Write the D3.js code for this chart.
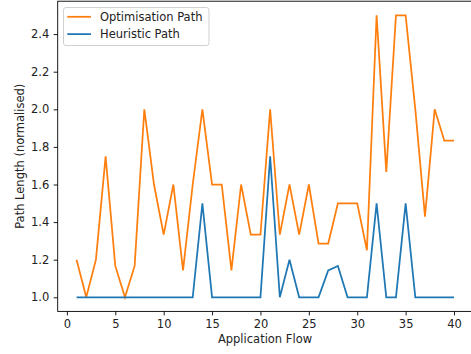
<!DOCTYPE html>
<html>
<head>
<meta charset="utf-8">
<script src="https://cdnjs.cloudflare.com/ajax/libs/d3/7.8.5/d3.min.js"></script>
<style>
  body { margin: 0; background: #fff; }
  text { font-family: "DejaVu Sans", sans-serif; fill: #222; }
</style>
</head>
<body>
<svg width="471" height="354"></svg>
<script>
// application flow index 1..40
var flows = d3.range(1, 41);

var optimisation = [1.2, 1.0, 1.2, 1.75, 1.167, 1.0, 1.167, 2.0, 1.6, 1.333,
                    1.6, 1.143, 1.6, 2.0, 1.6, 1.6, 1.143, 1.6, 1.333, 1.333,
                    2.0, 1.333, 1.6, 1.333, 1.6, 1.286, 1.286, 1.5, 1.5, 1.5,
                    1.25, 2.5, 1.667, 2.5, 2.5, 2.0, 1.429, 2.0, 1.833, 1.833];

var heuristic = [1.0, 1.0, 1.0, 1.0, 1.0, 1.0, 1.0, 1.0, 1.0, 1.0,
                 1.0, 1.0, 1.0, 1.5, 1.0, 1.0, 1.0, 1.0, 1.0, 1.0,
                 1.75, 1.0, 1.2, 1.0, 1.0, 1.0, 1.143, 1.167, 1.0, 1.0,
                 1.0, 1.5, 1.0, 1.0, 1.5, 1.0, 1.0, 1.0, 1.0, 1.0];

var xTicks = [0, 5, 10, 15, 20, 25, 30, 35, 40];
var yTicks = [1.0, 1.2, 1.4, 1.6, 1.8, 2.0, 2.2, 2.4];

var svg = d3.select("svg");
var fs = "11.5px";

var plotL = 57.7, plotR = 472.9, plotT = 1.2, plotB = 311.4;

var x = d3.scaleLinear().domain([-0.95, 41.95]).range([plotL, plotR]);
var y = d3.scaleLinear().domain([0.925, 2.575]).range([plotB, plotT]);

var xAxis = svg.append("g")
    .attr("transform", "translate(0," + plotB + ")")
    .call(d3.axisBottom(x).tickValues(xTicks).tickSize(4).tickPadding(4).tickFormat(d3.format("d")));

var yAxis = svg.append("g")
    .attr("transform", "translate(" + plotL + ",0)")
    .call(d3.axisLeft(y).tickValues(yTicks).tickSize(4).tickPadding(4.5).tickFormat(d3.format(".1f")));

[xAxis, yAxis].forEach(function(a) {
  a.select(".domain").remove();
  a.selectAll("line").attr("stroke", "#000").attr("stroke-width", 0.9);
  a.selectAll("text").attr("font-size", fs).attr("font-family", "DejaVu Sans").attr("fill", "#222");
});

// spines
svg.append("rect")
    .attr("x", plotL).attr("y", plotT)
    .attr("width", plotR - plotL).attr("height", plotB - plotT)
    .attr("fill", "none").attr("stroke", "#000").attr("stroke-width", 0.9);

var line = d3.line()
    .x(function(d, i) { return x(flows[i]); })
    .y(function(d) { return y(d); });

svg.append("path")
    .datum(optimisation)
    .attr("d", line)
    .attr("fill", "none")
    .attr("stroke", "#ff7f0e")
    .attr("stroke-width", 1.75);

svg.append("path")
    .datum(heuristic)
    .attr("d", line)
    .attr("fill", "none")
    .attr("stroke", "#1f77b4")
    .attr("stroke-width", 1.75);

// axis labels
svg.append("text")
    .attr("x", 265)
    .attr("y", 343)
    .attr("text-anchor", "middle")
    .attr("font-size", fs)
    .text("Application Flow");

svg.append("text")
    .attr("transform", "translate(23.5," + ((plotT + plotB) / 2) + ") rotate(-90)")
    .attr("text-anchor", "middle")
    .attr("font-size", fs)
    .text("Path Length (normalised)");

// legend
var legend = svg.append("g");
legend.append("rect")
    .attr("x", 63.5).attr("y", 7.5)
    .attr("width", 145.5).attr("height", 38)
    .attr("rx", 2.5)
    .attr("fill", "#fff").attr("fill-opacity", 0.8)
    .attr("stroke", "#ccc").attr("stroke-width", 0.9);

var items = [["Optimisation Path", "#ff7f0e"], ["Heuristic Path", "#1f77b4"]];
items.forEach(function(it, i) {
  var ly = 16.8 + i * 17.3;
  legend.append("line")
      .attr("x1", 67.3).attr("x2", 91)
      .attr("y1", ly).attr("y2", ly)
      .attr("stroke", it[1]).attr("stroke-width", 1.75);
  legend.append("text")
      .attr("x", 100).attr("y", ly + 4)
      .attr("font-size", fs)
      .text(it[0]);
});
</script>
</body>
</html>
